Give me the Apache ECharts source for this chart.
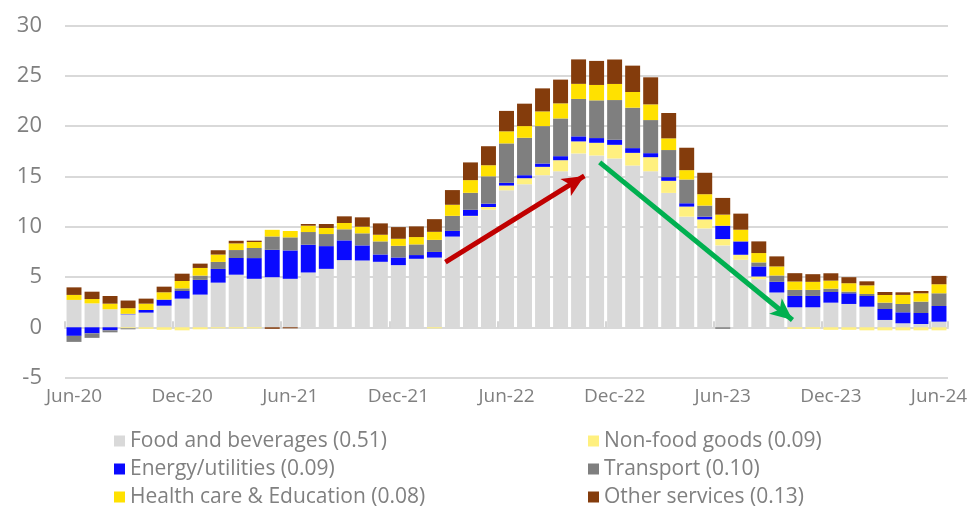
<!DOCTYPE html>
<html>
<head>
<meta charset="utf-8">
<script src="https://cdn.jsdelivr.net/npm/echarts@6/dist/echarts.min.js"></script>
<style>
html,body{margin:0;padding:0;background:#fff;}
#chart{width:971px;height:509px;}
</style>
</head>
<body>
<div id="chart"></div>
<script>
var categories = ['Jun-20','Jul-20','Aug-20','Sep-20','Oct-20','Nov-20','Dec-20','Jan-21','Feb-21','Mar-21',
  'Apr-21','May-21','Jun-21','Jul-21','Aug-21','Sep-21','Oct-21','Nov-21','Dec-21','Jan-22',
  'Feb-22','Mar-22','Apr-22','May-22','Jun-22','Jul-22','Aug-22','Sep-22','Oct-22','Nov-22',
  'Dec-22','Jan-23','Feb-23','Mar-23','Apr-23','May-23','Jun-23','Jul-23','Aug-23','Sep-23',
  'Oct-23','Nov-23','Dec-23','Jan-24','Feb-24','Mar-24','Apr-24','May-24','Jun-24'];

var food = [2.72,2.38,1.79,1.29,1.46,2.15,2.85,3.25,4.44,5.23,
  4.82,4.98,4.82,5.45,5.81,6.68,6.64,6.51,6.18,6.81,
  6.93,9.02,11.03,11.69,13.62,14.22,15.12,15.51,17.28,17.08,
  16.78,16.08,15.51,13.36,11.0,9.83,8.14,6.71,4.78,3.46,
  1.99,1.99,2.45,2.32,2.05,0.73,0.4,0.33,0.56];

var nonFood = [0,0,0,-0.1,-0.15,-0.25,-0.3,-0.2,-0.1,-0.1,
  -0.1,0,0,0,0,0,0,0,0,0,
  -0.1,0,0.05,0.27,0.47,0.6,0.83,1.1,1.2,1.26,
  1.36,1.26,1.4,1.2,1.0,0.9,0.63,0.5,0.27,0,
  -0.15,-0.15,-0.25,-0.25,-0.3,-0.3,-0.3,-0.3,-0.3];

var energy = [-0.85,-0.6,-0.3,0.05,0.26,0.6,0.76,1.46,1.36,1.66,
  2.06,2.72,2.82,2.76,2.26,1.96,1.5,0.73,0.76,0.37,
  0.56,0.56,0.6,0.33,0.27,0.3,0.33,0.4,0.5,0.47,
  0.5,0.47,0.4,0.37,0.33,0.27,1.33,1.33,1.0,1.06,
  1.13,1.13,1.06,1.06,1.06,1.09,1.09,1.09,1.56];

var transport = [-0.6,-0.45,-0.2,-0.1,0,0,0.26,0.43,0.7,0.79,
  1.0,1.33,1.3,1.26,1.2,1.1,1.2,1.3,1.16,1.06,
  1.2,1.5,1.69,2.72,3.92,3.72,3.72,3.75,3.72,3.75,
  3.95,4.02,3.29,2.69,2.36,1.1,-0.15,0,0.4,0.63,
  0.6,0.6,0.33,0.17,0.2,0.63,0.83,1.13,1.26];

var health = [0.5,0.43,0.56,0.56,0.63,0.73,0.73,0.76,0.73,0.66,
  0.6,0.66,0.63,0.63,0.6,0.63,0.66,0.66,0.7,0.73,
  0.8,1.1,1.26,1.1,1.2,1.16,1.46,1.5,1.5,1.53,
  1.6,1.56,1.56,1.16,0.93,1.13,1.1,1.16,0.93,0.9,
  0.83,0.8,0.8,0.83,0.86,0.76,0.9,0.83,0.9];

var other = [0.75,0.73,0.76,0.76,0.5,0.56,0.73,0.43,0.43,0.26,
  0.13,-0.15,-0.1,0.17,0.4,0.66,0.93,1.13,1.16,1.06,
  1.26,1.46,1.76,1.89,2.03,2.23,2.29,2.36,2.43,2.39,
  2.43,2.62,2.69,2.52,2.23,2.13,1.66,1.6,1.16,1.0,
  0.83,0.76,0.73,0.6,0.4,0.3,0.26,0.23,0.83];

var seriesNames = ['Food and beverages (0.51)','Non-food goods (0.09)','Energy/utilities (0.09)',
  'Transport (0.10)','Health care & Education (0.08)','Other services (0.13)'];
var seriesColors = ['#d9d9d9','#fff07f','#0a0aff','#7f7f7f','#ffe100','#843c0c'];
var seriesData = [food, nonFood, energy, transport, health, other];

// annotation arrows: [x(category index), y(value)] start and end
var redArrow = [[20.61, 6.49], [28.32, 15.04]];
var greenArrow = [[29.17, 16.4], [39.87, 0.73]];

var FONT = '"Open Sans"';
var TXT = '#808080';

var chart = echarts.init(document.getElementById('chart'), null, {renderer: 'canvas'});

var series = seriesData.map(function (d, i) {
  return {
    name: seriesNames[i],
    type: 'bar',
    stack: 'total',
    xAxisIndex: 0,
    yAxisIndex: 0,
    barCategoryGap: '17%',
    itemStyle: {color: seriesColors[i]},
    emphasis: {disabled: true},
    data: d
  };
});

series.push({
  type: 'line',
  xAxisIndex: 2,
  yAxisIndex: 0,
  data: [],
  silent: true,
  markLine: {
    silent: true,
    animation: false,
    symbol: ['none', 'arrow'],
    symbolSize: [15, 22],
    label: {show: false},
    emphasis: {disabled: true},
    data: [
      [{coord: redArrow[0], lineStyle: {color: '#c00000', width: 5, type: 'solid'}}, {coord: redArrow[1]}],
      [{coord: greenArrow[0], lineStyle: {color: '#00b050', width: 5, type: 'solid'}}, {coord: greenArrow[1]}]
    ]
  }
});

// legend: one component per item, two columns of three rows
var legendCols = [114, 588];
var legendRows = [441, 469, 497];
var legendOrder = [0, 1, 2, 3, 4, 5];
var legends = legendOrder.map(function (si, k) {
  var col = k % 2, row = Math.floor(k / 2);
  return {
    data: [seriesNames[si]],
    left: legendCols[col],
    top: legendRows[row] - 11,
    padding: 0,
    itemWidth: 11, itemHeight: 11, itemGap: 0, icon: 'rect',
    selectedMode: false,
    textStyle: {fontFamily: FONT, fontSize: 21, lineHeight: 22, color: TXT}
  };
});

var option = {
  animation: false,
  backgroundColor: '#ffffff',
  grid: {left: 65, right: 23, top: 25.5, bottom: 131.4, containLabel: false},
  legend: legends,
  xAxis: [
    {
      type: 'category',
      data: categories,
      position: 'bottom',
      axisLine: {show: false, onZero: false},
      axisTick: {show: false},
      axisLabel: {interval: 5, fontFamily: FONT, fontSize: 19, color: TXT, margin: 9},
      splitLine: {show: false}
    },
    {
      type: 'category',
      data: categories,
      position: 'bottom',
      axisLine: {show: true, onZero: true, lineStyle: {color: '#d9d9d9', width: 2}},
      axisTick: {show: true, inside: true, interval: 5, length: 6, lineStyle: {color: '#c8c8c8', width: 1.5}},
      axisLabel: {show: false},
      splitLine: {show: false}
    },
    {
      type: 'value',
      min: -0.5,
      max: 48.5,
      show: false
    }
  ],
  yAxis: {
    type: 'value',
    min: -5,
    max: 30,
    interval: 5,
    axisLine: {show: false},
    axisTick: {show: false},
    axisLabel: {fontFamily: FONT, fontSize: 22, color: TXT, margin: 23},
    splitLine: {lineStyle: {color: '#d9d9d9', width: 2}}
  },
  series: series
};

chart.setOption(option);
</script>
</body>
</html>
